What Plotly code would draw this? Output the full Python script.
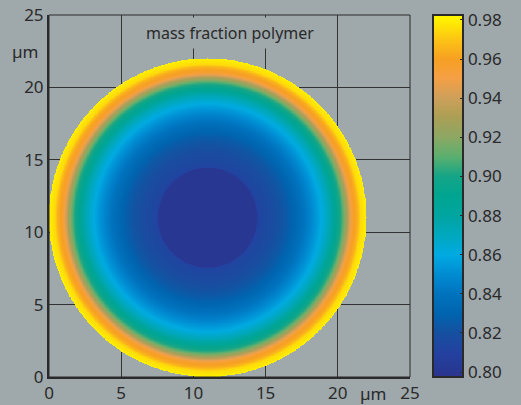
import numpy as np
import plotly.graph_objects as go

# Radial profile of the mass fraction
radius_um = [0.0, 3.4, 3.5, 4.6, 5.5, 6.3, 7.0, 7.6, 8.1, 8.5, 8.9, 9.3, 9.6, 9.8, 10.0, 10.4, 10.6, 11.0]
mass_fraction = [0.80, 0.80, 0.812, 0.818, 0.825, 0.835, 0.845, 0.855, 0.865, 0.875, 0.89, 0.905, 0.925, 0.94, 0.955, 0.965, 0.975, 0.98]
center_um = (11.0, 11.0)
drop_radius_um = 11.0

# Colour scale
cb_values = [0.7975, 0.80, 0.81, 0.82, 0.83, 0.84, 0.85, 0.86, 0.87, 0.88, 0.89,
             0.90, 0.91, 0.92, 0.93, 0.94, 0.95, 0.96, 0.97, 0.98, 0.9825]
cb_colors = ["#2d328c", "#283791", "#2341a0", "#1650a0", "#0064af", "#0073be", "#008cd2",
             "#00aae1", "#00a8be", "#00a5a0", "#00a591", "#14a587", "#5aaf6e", "#8ca864",
             "#aa9f55", "#cda05a", "#f4a046", "#f7a023", "#fcc414", "#fff000", "#fff500"]
cmin, cmax = cb_values[0], cb_values[-1]
colorscale = [[(v - cmin) / (cmax - cmin), c] for v, c in zip(cb_values, cb_colors)]

x_ticks = [0, 5, 10, 15, 20, 25]
y_ticks = [0, 5, 10, 15, 20, 25]

grid = np.arange(0.0, 22.0001, 0.04)
X, Y = np.meshgrid(grid, grid)
R = np.hypot(X - center_um[0], Y - center_um[1])
Z = np.interp(R, radius_um, mass_fraction)
Z = np.where(R <= drop_radius_um, Z, np.nan)

bg = "#9fa8aa"
ink = "#2a2a2a"
font = "Noto Sans"

fig = go.Figure()
fig.add_trace(go.Heatmap(
    x=grid, y=grid, z=Z, colorscale=colorscale, zmin=cmin, zmax=cmax,
    hoverongaps=False,
    colorbar=dict(
        x=(433 - 49) / 361, xanchor="left", xpad=0, ypad=0,
        y=0.5, yanchor="middle", len=1, lenmode="fraction",
        thickness=30, outlinewidth=2, outlinecolor=ink,
        tickvals=[0.80, 0.82, 0.84, 0.86, 0.88, 0.90, 0.92, 0.94, 0.96, 0.98],
        ticktext=["0.80", "0.82", "0.84", "0.86", "0.88", "0.90", "0.92", "0.94", "0.96", "0.98"],
        ticks="inside", ticklen=4, tickcolor=ink, tickwidth=1,
        tickfont=dict(family=font, size=17, color=ink),
    ),
))

fig.update_layout(
    width=521, height=405,
    margin=dict(l=49, r=111, t=15, b=28, autoexpand=False),
    paper_bgcolor=bg, plot_bgcolor=bg,
    showlegend=False,
    font=dict(family=font, color=ink),
    xaxis=dict(range=[0, 25], tickvals=x_ticks, ticktext=["0", "5", "10", "15", "20", "25"],
               showgrid=True, gridcolor="#333333", gridwidth=1, zeroline=False,
               showline=True, linecolor=ink, linewidth=2, mirror=False, automargin=False,
               ticks="", tickfont=dict(family=font, size=17, color=ink)),
    yaxis=dict(range=[0, 25], tickvals=y_ticks, ticktext=["0", "5", "10", "15", "20", "25"],
               showgrid=True, gridcolor="#333333", gridwidth=1, zeroline=False,
               showline=True, linecolor=ink, linewidth=2, mirror=False, automargin=False,
               ticks="", tickfont=dict(family=font, size=17, color=ink)),
    shapes=[dict(type="rect", xref="paper", yref="paper", x0=0, x1=1, y0=0, y1=1,
                 line=dict(color=ink, width=1), layer="above")],
    annotations=[
        dict(text="mass fraction polymer", xref="paper", yref="paper", x=0.5, y=(377 - 33) / 362,
             showarrow=False, font=dict(family=font, size=16, color=ink),
             bgcolor=bg, borderpad=4, xanchor="center", yanchor="middle"),
        dict(text="µm", xref="paper", yref="y", x=0, y=22.5, xanchor="right", yanchor="middle",
             xshift=-8, showarrow=False, font=dict(family=font, size=17, color=ink)),
        dict(text="µm", xref="x", yref="paper", x=22.5, y=0, xanchor="center", yanchor="top",
             yshift=-3, showarrow=False, font=dict(family=font, size=17, color=ink)),
    ],
)

fig.write_html(
    "out.html",
    config={"displayModeBar": False},
    post_script="document.body.style.margin='0';document.body.style.background='" + bg + "';",
)
